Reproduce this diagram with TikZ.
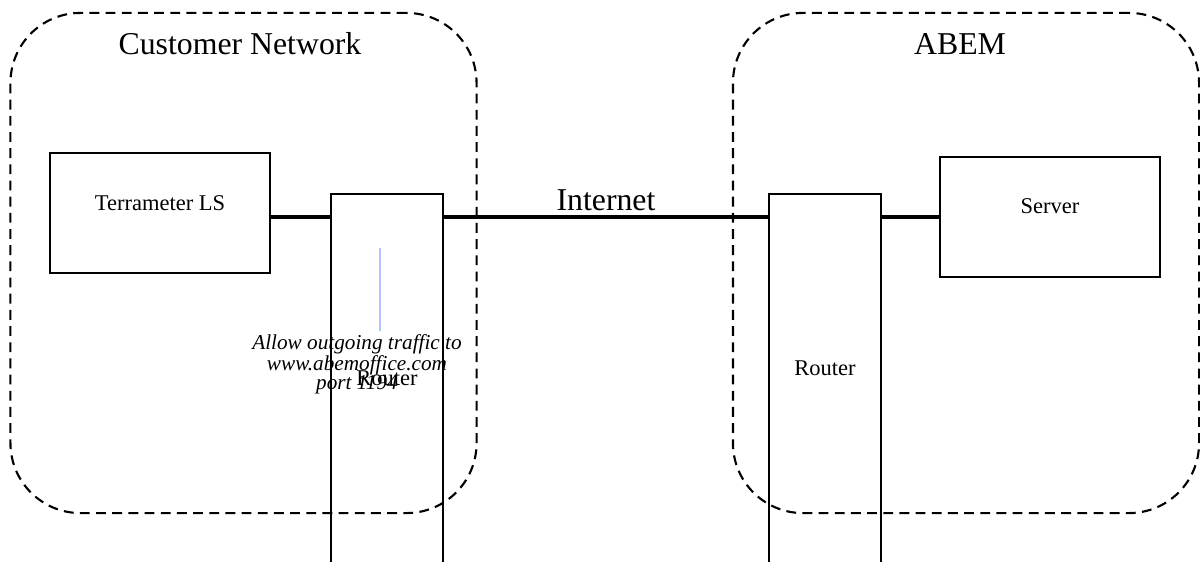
\documentclass[tikz,border=0pt]{standalone}
\usepackage{fontspec}
\setmainfont{Liberation Serif}
\usetikzlibrary{positioning, calc}

\begin{document}
\begin{tikzpicture}[x=0.025cm, y=-0.025cm,
  zone/.style={draw, dashed, line width=1.5pt, dash pattern=on 7pt off 4.5pt,
    rounded corners=1.75cm, minimum width=11.65cm, minimum height=12.5cm},
  devbox/.style={draw, line width=1.3pt, minimum width=5.5cm, minimum height=3cm},
  routerbox/.style={draw, line width=1.3pt, minimum width=2.8cm, minimum height=10.2cm, anchor=north},
  title/.style={font=\fontsize{22.6}{27}\selectfont},
  boxtext/.style={font=\fontsize{16}{19}\selectfont},
  link/.style={line width=2.6pt},
  note/.style={align=center, font=\fontsize{15.1}{13.5}\itshape},
  noteline/.style={line width=1.4pt, color={rgb,255:red,176;green,196;blue,255}}]
  \useasboundingbox (0,0) rectangle (1200,561);
  \clip (0,0) rectangle (1200,561);

  % Customer network zone
  \node[zone] (cust) at (243.5,263) {};
  \node[title] (custtitle) at (240,44) {Customer Network};

  % ABEM zone
  \node[zone] (abem) at (966,263) {};
  \node[title] (abemtitle) at (960,44) {ABEM};

  % Devices
  \node[devbox, label={[boxtext, yshift=0.25cm]center:Terrameter LS}] (ls) at (160,213) {};
  \node[devbox, label={[boxtext, yshift=0.27cm]center:Server}] (server) at (1050,217) {};

  % Routers
  \node[routerbox] (r1) at (387,193) {};
  \node[boxtext] (r1text) at (387,378) {Router};
  \node[routerbox] (r2) at (825,193) {};
  \node[boxtext] (r2text) at (825,368) {Router};

  % Links
  \draw[link] (ls.east |- server.west) -- (server.west -| r1.west);
  \draw[link] (server.west -| r1.east) -- (server.west -| r2.west)
    node[midway, above, title, inner sep=3pt] {Internet};
  \draw[link] (server.west -| r2.east) -- (server.west);

  % Firewall note
  \node[note, inner sep=2pt] (fw) at (357,364) {Allow outgoing traffic to\\www.abemoffice.com\\port 1194};
  \coordinate (fwtip) at (380,248);
  \draw[noteline] (fwtip) -- (fwtip |- fw.north);
\end{tikzpicture}
\end{document}
